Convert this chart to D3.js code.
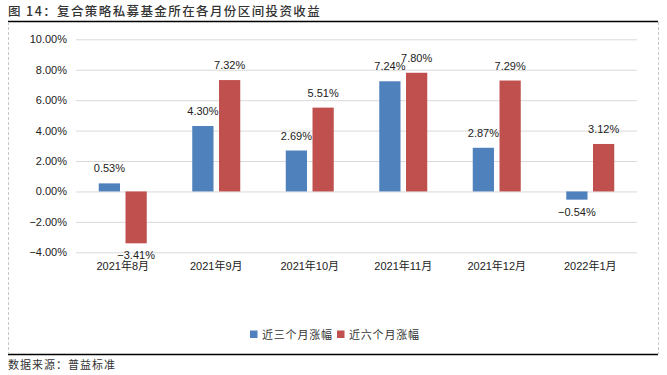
<!DOCTYPE html>
<html lang="zh">
<head>
  <meta charset="UTF-8">
  <title>复合策略私募基金所在各月份区间投资收益</title>
  <script src="https://d3js.org/d3.v7.min.js"></script>
  <style>
    body { margin: 0; background: #fff; }
    svg text { font-family: "Liberation Sans", Arial, "Noto Sans CJK SC", sans-serif; fill: #222; }
    .cjk { font-family: "Noto Sans CJK SC", sans-serif !important; }
    .grid line { stroke: #d9d9d9; stroke-width: 1; }
  </style>
</head>
<body>
  <svg width="667" height="375"></svg>

  <script>
    const width = 667, height = 375;
    const svg = d3.select("svg");

    // data
    const months = ["2021年8月", "2021年9月", "2021年10月", "2021年11月", "2021年12月", "2022年1月"];
    const seriesNames = ["近三个月涨幅", "近六个月涨幅"];
    const threeMonth = [0.53, 4.30, 2.69, 7.24, 2.87, -0.54];
    const sixMonth = [-3.41, 7.32, 5.51, 7.80, 7.29, 3.12];
    const yTicks = [-4, -2, 0, 2, 4, 6, 8, 10];
    const colors = ["#4f81bd", "#c0504d"];

    const x = d3.scaleBand().domain(months).range([76, 637]);
    const x1 = d3.scaleBand().domain(seriesNames)
      .range([(x.bandwidth() - 48) / 2, (x.bandwidth() + 48) / 2])
      .paddingInner(0.206);
    const y = d3.scaleLinear().domain([-4, 10]).range([252.3, 39.3]);

    // title and frame
    svg.append("text").attr("class", "cjk")
      .attr("x", 8).attr("y", 16)
      .style("font-size", "12.5px").style("font-weight", "500").style("fill", "#333")
      .style("letter-spacing", "1.4px")
      .text("图 14：复合策略私募基金所在各月份区间投资收益");
    svg.append("line").attr("x1", 8).attr("x2", 658).attr("y1", 21.5).attr("y2", 21.5)
      .attr("stroke", "#000").attr("stroke-width", 1.5);
    svg.append("line").attr("x1", 8).attr("x2", 658).attr("y1", 354.5).attr("y2", 354.5)
      .attr("stroke", "#000").attr("stroke-width", 1.5);
    [8.5, 658.5].forEach(xx => {
      svg.append("line").attr("x1", xx).attr("x2", xx).attr("y1", 22).attr("y2", 354)
        .attr("stroke", "#c8c8c8").attr("stroke-dasharray", "3,2");
    });
    svg.append("text").attr("class", "cjk")
      .attr("x", 8).attr("y", 369)
      .style("font-size", "11px").style("fill", "#333").style("letter-spacing", "1px")
      .text("数据来源：普益标准");

    // gridlines and y axis
    const yAxis = svg.append("g").attr("class", "grid")
      .attr("transform", "translate(76,0)")
      .call(d3.axisLeft(y).tickValues(yTicks).tickSize(-561).tickPadding(9)
        .tickFormat(d => d3.format(".2f")(d) + "%"));
    yAxis.select(".domain").remove();
    yAxis.selectAll("text").style("font-size", "11px");

    // x axis labels
    const xAxis = svg.append("g")
      .attr("transform", "translate(0,252.3)")
      .call(d3.axisBottom(x).tickSize(0).tickPadding(10));
    xAxis.select(".domain").remove();
    xAxis.selectAll("text").style("font-size", "11px");

    // bars
    const rows = months.map((m, i) => ({ month: m, values: [threeMonth[i], sixMonth[i]] }));
    const groups = svg.selectAll(".grp").data(rows).enter().append("g")
      .attr("class", "grp")
      .attr("transform", d => `translate(${x(d.month)},0)`);

    groups.selectAll("rect")
      .data(d => d.values.map((v, j) => ({ name: seriesNames[j], v, j })))
      .enter().append("rect")
      .attr("x", d => x1(d.name))
      .attr("width", x1.bandwidth())
      .attr("y", d => y(Math.max(0, d.v)))
      .attr("height", d => Math.abs(y(d.v) - y(0)))
      .attr("fill", d => colors[d.j]);

    groups.selectAll("text.lbl")
      .data(d => d.values.map((v, j) => ({ name: seriesNames[j], v, j })))
      .enter().append("text")
      .attr("class", "lbl")
      .attr("x", d => x1(d.name) + x1.bandwidth() / 2)
      .attr("y", d => d.v >= 0 ? y(d.v) - 11 : y(d.v) + 16)
      .attr("text-anchor", "middle")
      .style("font-size", "11px")
      .text(d => d3.format(".2f")(d.v) + "%");

    // legend
    const legend = svg.append("g").attr("transform", "translate(250,330.5)");
    const lx = [0, 87];
    seriesNames.forEach((n, i) => {
      legend.append("rect").attr("x", lx[i]).attr("y", 0).attr("width", 7.5).attr("height", 7.5)
        .attr("fill", colors[i]);
      legend.append("text").attr("class", "cjk")
        .attr("x", lx[i] + 12).attr("y", 8)
        .style("font-size", "11px").style("fill", "#333").style("letter-spacing", "0.8px")
        .text(n);
    });
  </script>
</body>
</html>
